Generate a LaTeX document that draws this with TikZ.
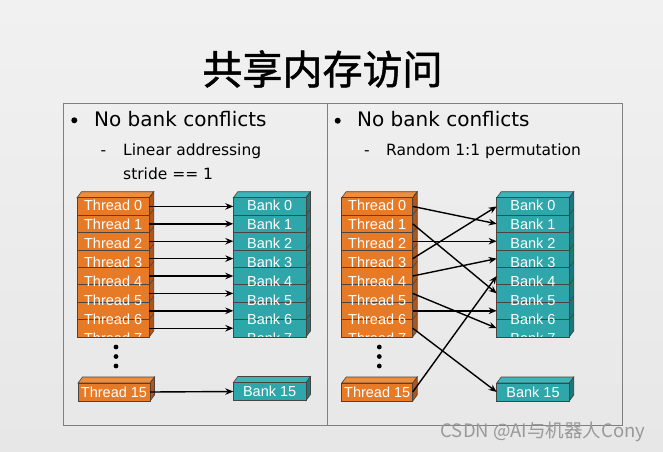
\documentclass[tikz,border=0pt]{standalone}
\usepackage{fontspec}
\setmainfont{DejaVu Sans}
\newfontfamily\boxfont{Liberation Sans}
\newfontfamily\cjk{Noto Sans CJK SC}
\newfontfamily\cjktitle{Noto Sans CJK SC}[FakeBold=1.2]
\usetikzlibrary{arrows.meta}
\definecolor{orangeF}{HTML}{E67A26}
\definecolor{orangeS}{HTML}{B0561A}
\definecolor{orangeT}{HTML}{EE8E3C}
\definecolor{tealF}{HTML}{2FA6AA}
\definecolor{tealS}{HTML}{1D777B}
\definecolor{tealT}{HTML}{3CB5B8}
\definecolor{bgtop}{HTML}{F1F1F1}
\definecolor{bgbot}{HTML}{E7E7E7}
\definecolor{edgec}{HTML}{4A4440}
\tikzset{
  edge/.style={draw=edgec, line width=0.6pt},
  rowbox/.style={rectangle, edge, minimum height=17.4pt, inner sep=0pt, outer sep=0pt},
  lbl/.style={text=white, font=\boxfont\fontsize{14.5}{16}\selectfont, inner sep=0pt},
  arr/.style={-{Stealth[length=8pt,width=6.5pt]}, line width=1.4pt, black},
  panel/.style={draw=black!50, line width=0.8pt},
  bodytext/.style={font=\fontsize{20}{24}\selectfont, anchor=base west, inner sep=0pt},
  subtext/.style={font=\fontsize{15.5}{19}\selectfont, anchor=base west, inner sep=0pt},
  dotc/.style={fill=black},
}
% #1 prefix, #2 x left, #3 word, #4 colour family, #5 width
\newcommand\rowstack[5]{%
  \filldraw[fill=#4T, edge] (#2,197.7) -- ++(4.5,-6) -- ++(#5,0) -- ++(-4.5,6) -- cycle;
  \filldraw[fill=#4S, edge] (#2+#5,197.7) -- ++(4.5,-6) -- ++(0,139.2) -- ++(-4.5,6) -- cycle;
  \foreach \i in {0,...,7} {
    \node[rowbox, fill=#4F, minimum width=#5 pt] (#1\i) at (#2+#5/2, 197.7+8.7+\i*17.4) {};
    \draw[edge] (#2+#5,197.7+\i*17.4) -- ++(4.5,-6);
  }
  \begin{scope}
    \clip (#2,197.7) rectangle ++(#5,139.2);
    \foreach \i in {0,...,7} \node[lbl] (#1l\i) at (#2+#5/2, 205.5+\i*19) {#3 \i};
  \end{scope}
}
% #1 name, #2 x left, #3 y top, #4 width, #5 colour family, #6 text
\newcommand\singlebox[6]{%
  \filldraw[fill=#5T, edge] (#2,#3) -- ++(4.5,-6) -- ++(#4,0) -- ++(-4.5,6) -- cycle;
  \filldraw[fill=#5S, edge] (#2+#4,#3) -- ++(4.5,-6) -- ++(0,18) -- ++(-4.5,6) -- cycle;
  \node[rowbox, fill=#5F, minimum width=#4 pt, minimum height=18pt] (#1) at (#2+#4/2, #3+9) {};
  \node[lbl] (#1l) at (#2+#4/2, #3+9) {#6};
}
\newcommand\threedots[2]{%
  \fill[dotc] (#1,347) circle (2.4);
  \fill[dotc] (#1,356.5) circle (2.4);
  \fill[dotc] (#1,366) circle (2.4);
}
\begin{document}
\begin{tikzpicture}[x=1pt,y=-1pt]
\useasboundingbox (0,0) rectangle (663,451);
\shade[top color=bgtop, bottom color=bgbot] (0,0) rectangle (663,451);

% title
\node[font=\cjktitle\fontsize{40}{44}\selectfont, inner sep=0pt] (title) at (322.5,69) {共享内存访问};

% panels
\draw[panel] (63,103) rectangle (327,425);
\draw[panel] (327,103) rectangle (622,425);

% left panel text
\fill[black] (74.3,120.3) circle (3);
\node[bodytext] (lh) at (94,126.7) {No bank conflicts};
\node[subtext] (ld) at (100.5,155) {-};
\node[subtext] (ls1) at (123,155) {Linear addressing};
\node[subtext] (ls2) at (123,179) {stride == 1};

% right panel text
\fill[black] (337.7,120.7) circle (3);
\node[bodytext] (rh) at (357,126.7) {No bank conflicts};
\node[subtext] (rd) at (364,155) {-};
\node[subtext] (rs1) at (386,155) {Random 1:1 permutation};

% left panel stacks
\rowstack{lt}{77}{Thread}{orange}{72.3}
\rowstack{lb}{233.3}{Bank}{teal}{72.7}
\singlebox{lt15}{78}{383}{72}{orange}{Thread 15}
\singlebox{lb15}{233.3}{382.5}{72.7}{teal}{Bank 15}
\threedots{116}
\threedots{271}

% right panel stacks
\rowstack{rt}{341.7}{Thread}{orange}{71}
\rowstack{rb}{496.7}{Bank}{teal}{72.6}
\singlebox{rt15}{341.7}{383}{71}{orange}{Thread 15}
\singlebox{rb15}{496.7}{383}{72.6}{teal}{Bank 15}
\threedots{379.3}
\threedots{535}

% left arrows
\foreach \i in {0,...,7} \draw[arr] (lt\i.east) -- (lb\i.west);
\draw[arr] (lt15.east) -- (lb15.west);

% right arrows (random permutation)
\foreach \a/\b in {0/1,1/5,2/2,3/0,4/3,5/7,6/6,7/15}
  \draw[arr] (rt\a.east) -- (rb\b.west);
\draw[arr] (rt15.east) -- (rb4.west);

% watermark
\node[font=\cjk\fontsize{18.5}{21}\selectfont, text=black!40, inner sep=0pt] (wm) at (543,432) {CSDN @AI与机器人Cony};
\end{tikzpicture}
\end{document}
